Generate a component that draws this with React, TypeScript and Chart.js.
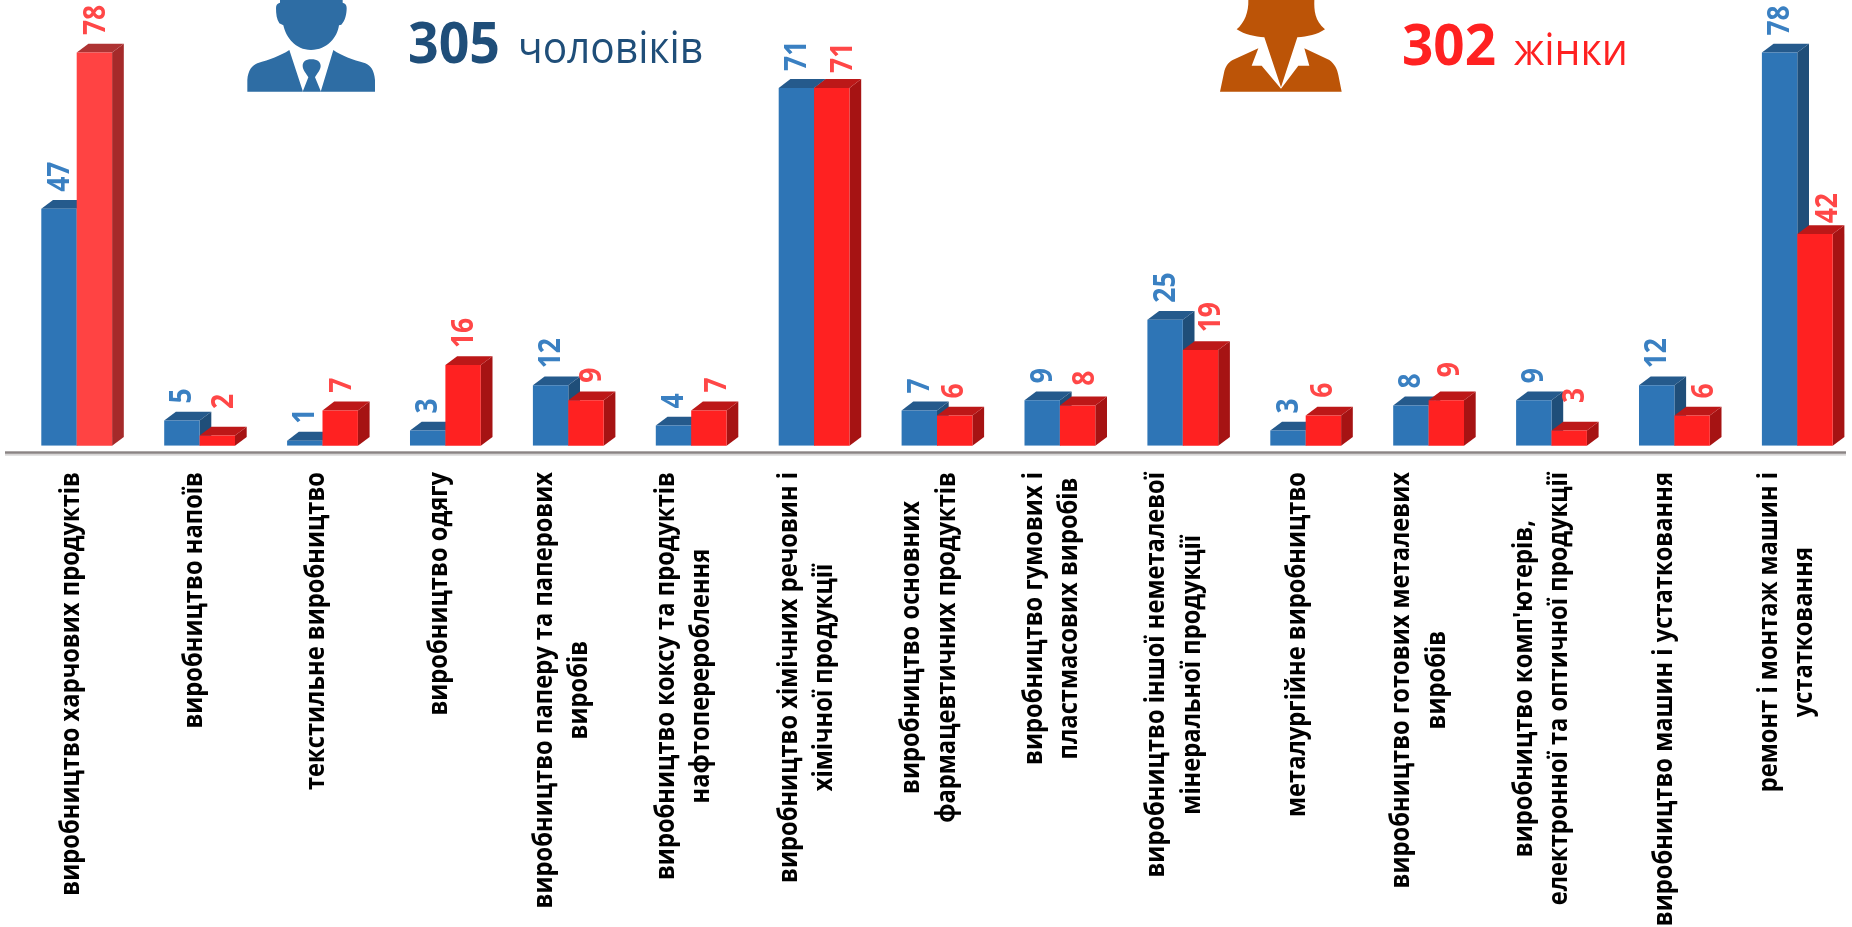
import React, { useEffect, useRef } from "react";
import { Chart, registerables } from "chart.js";

Chart.register(...registerables);

const categoryLines: string[][] = [
  ["виробництво харчових продуктів"],
  ["виробництво напоїв"],
  ["текстильне виробництво"],
  ["виробництво одягу"],
  ["виробництво паперу та паперових", "виробів"],
  ["виробництво коксу та продуктів", "нафтоперероблення"],
  ["виробництво хімічних речовин і", "хімічної продукції"],
  ["виробництво основних", "фармацевтичних продуктів"],
  ["виробництво гумових і", "пластмасових виробів"],
  ["виробництво іншої неметалевої", "мінеральної продукції"],
  ["металургійне виробництво"],
  ["виробництво готових металевих", "виробів"],
  ["виробництво комп'ютерів,", "електронної та оптичної продукції"],
  ["виробництво машин і устатковання"],
  ["ремонт і монтаж машин і", "устатковання"],
];
const menValues = [47, 5, 1, 3, 12, 4, 71, 7, 9, 25, 3, 8, 9, 12, 78];
const womenValues = [78, 2, 7, 16, 9, 7, 71, 6, 8, 19, 6, 9, 3, 6, 42];

// hand-placed nudges of the women's value labels in the reference
const womenLabelNudgeX = [1.6, 6.7, 2, 1, 6.6, 9, 12, 0, 7.6, 10.5, 0, 4.5, 6.6, 12, 13];
const womenLabelGap = [17.5, 26.7, 17.7, 17, 17.7, 18, 15, 17, 19.7, 17.7, 17.7, 23, 27.7, 17, 10.7];

const BLUE = { front: "#2E75B6", top: "#255A8C", side: "#1F4E79", label: "#3A80C2" };
const RED = { front: "#FF2121", top: "#BC1818", side: "#A61313", label: "#FF4747" };
const RED_FIRST = { front: "#FF4343", top: "#AE3333", side: "#A52A2A" };
const DEPTH_X = 11.7;
const DEPTH_Y = 8.8;
const FONT = '"Open Sans", sans-serif';
const TICK_SCALE = 0.862;
const VALUE_SCALE = 0.88;

function fitted(ctx: CanvasRenderingContext2D, text: string, x: number, y: number, font: string, color: string, width: number) {
  ctx.save();
  ctx.font = font;
  ctx.fillStyle = color;
  ctx.textAlign = "left";
  ctx.textBaseline = "alphabetic";
  const k = width / ctx.measureText(text).width;
  ctx.translate(x, y);
  ctx.scale(k, 1);
  ctx.fillText(text, 0, 0);
  ctx.restore();
}

function drawExtrusion(ctx: CanvasRenderingContext2D, meta: any, isMen: boolean) {
  meta.data.forEach((bar: any, i: number) => {
    const c = isMen ? BLUE : i === 0 ? RED_FIRST : RED;
    const x0 = bar.x - bar.width / 2;
    const x1 = bar.x + bar.width / 2;
    const y = bar.y;
    const b = bar.base;
    ctx.save();
    ctx.fillStyle = c.side;
    ctx.beginPath();
    ctx.moveTo(x1, y);
    ctx.lineTo(x1 + DEPTH_X, y - DEPTH_Y);
    ctx.lineTo(x1 + DEPTH_X, b - DEPTH_Y);
    ctx.lineTo(x1, b);
    ctx.closePath();
    ctx.fill();
    ctx.fillStyle = c.top;
    ctx.beginPath();
    ctx.moveTo(x0, y);
    ctx.lineTo(x0 + DEPTH_X, y - DEPTH_Y);
    ctx.lineTo(x1 + DEPTH_X, y - DEPTH_Y);
    ctx.lineTo(x1, y);
    ctx.closePath();
    ctx.fill();
    ctx.restore();
  });
}

const extrusion = {
  id: "extrusion",
  beforeDatasetDraw(chart: any, args: any) {
    // Chart.js paints the first dataset last; the women's bars must sit in
    // front of the men's, so they are painted afterwards in afterDatasetsDraw.
    if (args.index === 1) return false;
    drawExtrusion(chart.ctx, args.meta, true);
    return true;
  },
  afterDatasetsDraw(chart: any) {
    const { ctx, chartArea, scales } = chart;
    const womenMeta = chart.getDatasetMeta(1);
    drawExtrusion(ctx, womenMeta, false);
    womenMeta.controller.draw();
    // base line
    ctx.save();
    ctx.fillStyle = "#D8D6D6";
    ctx.fillRect(5, chartArea.bottom + 7.4, 1841, 2.6);
    ctx.fillStyle = "#8A8484";
    ctx.fillRect(5, chartArea.bottom + 5.6, 1841, 2.4);
    // value labels
    ctx.font = `bold 30px ${FONT}`;
    ctx.textAlign = "left";
    ctx.textBaseline = "middle";
    const valueLabel = (text: string, x: number, y: number, color: string) => {
      ctx.save();
      ctx.translate(x, y);
      ctx.rotate(-Math.PI / 2);
      ctx.scale(VALUE_SCALE, 1);
      ctx.fillStyle = color;
      ctx.fillText(text, 0, 0);
      ctx.restore();
    };
    chart.getDatasetMeta(0).data.forEach((bar: any, i: number) => {
      valueLabel(String(menValues[i]), bar.x + 1, bar.y - 17, BLUE.label);
    });
    womenMeta.data.forEach((bar: any, i: number) => {
      valueLabel(String(womenValues[i]), bar.x + womenLabelNudgeX[i], bar.y - womenLabelGap[i], RED.label);
    });
    // category labels
    ctx.font = `bold 27.5px ${FONT}`;
    ctx.fillStyle = "#000000";
    ctx.textAlign = "center";
    ctx.textBaseline = "middle";
    const lineGap = 35.4;
    categoryLines.forEach((lines, i) => {
      const cx = scales.x.getPixelForValue(i) - 5.5 - 0.35 * i;
      const longest = Math.max(...lines.map((l) => ctx.measureText(l).width)) * TICK_SCALE;
      const cy = 472 + longest / 2;
      lines.forEach((line, j) => {
        ctx.save();
        ctx.translate(cx + (j - (lines.length - 1) / 2) * lineGap, cy);
        ctx.rotate(-Math.PI / 2);
        ctx.scale(TICK_SCALE, 1);
        ctx.fillText(line, 0, 0);
        ctx.restore();
      });
    });
    ctx.restore();
    // headline
    fitted(ctx, "305", 408, 63.3, `bold 58px ${FONT}`, "#1F4E79", 92);
    fitted(ctx, "чоловіків", 518, 63.3, `43.5px ${FONT}`, "#1F4E79", 185);
    fitted(ctx, "302", 1402, 65, `bold 58px ${FONT}`, "#FF2121", 94);
    fitted(ctx, "жінки", 1514, 65, `43.5px ${FONT}`, "#FF2121", 114);
  },
};

export default function App() {
  const ref = useRef<HTMLCanvasElement>(null);
  useEffect(() => {
    const chart = new Chart(ref.current!, {
      type: "bar",
      data: {
        labels: categoryLines.map((l) => l.join(" ")),
        datasets: [
          { label: "чоловіків", data: menValues, backgroundColor: BLUE.front },
          {
            label: "жінки",
            data: womenValues,
            backgroundColor: womenValues.map((_, i) => (i === 0 ? RED_FIRST.front : RED.front)),
          },
        ],
      },
      options: {
        animation: false,
        responsive: false,
        devicePixelRatio: 1,
        layout: { padding: { left: 15.25, right: 1.25, top: 2.2, bottom: 481.3 } },
        datasets: { bar: { categoryPercentage: 0.5761, barPercentage: 1 } },
        plugins: { legend: { display: false }, tooltip: { enabled: false } },
        scales: {
          x: { display: false, grid: { display: false } },
          y: { display: false, min: 0, max: 88, grid: { display: false } },
        },
      } as any,
      plugins: [extrusion],
    });
    return () => chart.destroy();
  }, []);
  return (
    <div style={{ position: "absolute", left: 0, top: 0, width: 1852, height: 927, background: "#fff", overflow: "hidden" }}>
      <canvas ref={ref} width={1860} height={927} style={{ display: "block" }} />
      <svg viewBox="0 0 450 300" width={150} height={100} style={{ position: "absolute", left: 240, top: 0 }}>
        <path
          fill="#2E6DA4"
          d="M120 0 L308 0 L308 8 C316 10 320 14 320 24 C320 42 316 62 304 74 L297 76 C292 112 262 150 213 150 C166 150 138 112 130 76 L118 70 C110 58 108 42 108 24 C108 14 112 10 120 8 Z"
        />
        <path fill="#2E6DA4" d="M148 150 L188 272 L188 275 L22 275 L22 240 C24 212 36 196 52 190 C90 178 120 168 148 150 Z" />
        <path fill="#2E6DA4" d="M280 150 L243 272 L243 275 L405 275 L405 240 C403 212 392 196 376 190 C336 178 306 168 280 150 Z" />
        <path
          fill="#2E6DA4"
          d="M214 178 C196 178 188 186 188 198 C188 210 200 222 205 232 L188 275 L243 275 L225 232 C230 222 242 210 242 198 C242 186 232 178 214 178 Z"
        />
      </svg>
      <svg viewBox="0 0 450 300" width={150} height={100} style={{ position: "absolute", left: 1210, top: 0 }}>
        <path
          fill="#BC5407"
          d="M115 0 L313 0 C312 30 314 62 345 88 C322 104 292 110 262 112 L213 262 L163 112 C135 110 104 104 80 88 C104 68 116 36 115 0 Z"
        />
        <path
          fill="#BC5407"
          d="M145 145 L125 197 L155 197 L213 266 L265 197 L298 197 L283 145 L358 180 C374 192 382 208 385 225 L395 275 L30 275 L42 218 C46 200 54 188 68 180 Z"
        />
      </svg>
    </div>
  );
}
